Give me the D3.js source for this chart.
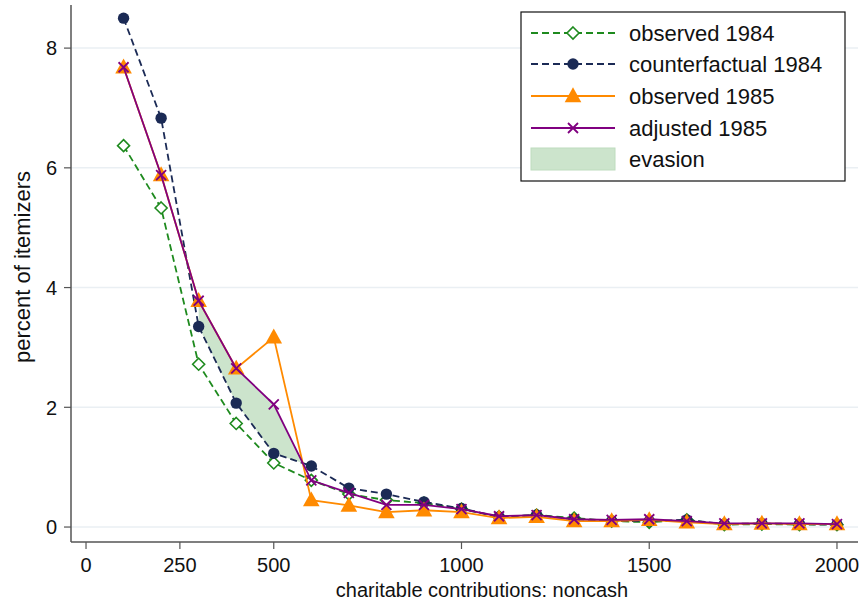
<!DOCTYPE html>
<html><head><meta charset="utf-8">
<script src="https://cdn.jsdelivr.net/npm/d3@7"></script>
<style>body{margin:0;background:#fff}svg{display:block;font-family:"Liberation Sans",Arial,sans-serif}</style>
</head><body><svg id="c" width="867" height="605"></svg>
<script>
const xValues = [100,200,300,400,500,600,700,800,900,1000,1100,1200,1300,1400,1500,1600,1700,1800,1900,2000];
const observed1984 = [6.37,5.33,2.72,1.73,1.07,0.78,0.55,0.45,0.40,0.30,0.17,0.20,0.15,0.10,0.08,0.12,0.04,0.05,0.04,0.04];
const counterfactual1984 = [8.50,6.83,3.35,2.07,1.23,1.02,0.65,0.55,0.42,0.31,0.17,0.20,0.13,0.10,0.10,0.12,0.05,0.06,0.05,0.04];
const observed1985 = [7.68,5.88,3.78,2.65,3.17,0.45,0.36,0.25,0.28,0.25,0.15,0.17,0.10,0.10,0.12,0.08,0.05,0.06,0.05,0.05];
const adjusted1985 = [7.68,5.88,3.78,2.65,2.05,0.78,0.57,0.37,0.37,0.30,0.18,0.20,0.13,0.12,0.13,0.10,0.06,0.06,0.06,0.05];
const evasionRange = [300,600];
const xTicks = [0,250,500,1000,1500,2000];
const yTicks = [0,2,4,6,8];
const seriesNames = ["observed 1984","counterfactual 1984","observed 1985","adjusted 1985","evasion"];
const xTitle = "charitable contributions: noncash";
const yTitle = "percent of itemizers";

const svg = d3.select("#c");
const L=71,R=858,T=5,B=542;
const x = d3.scaleLinear().domain([-40,2056]).range([L,R]);
const y = d3.scaleLinear().domain([-0.25,8.72]).range([B,T]);

// grid
svg.append("g").selectAll("line").data(yTicks).join("line")
  .attr("x1",L).attr("x2",R).attr("y1",d=>y(d)).attr("y2",d=>y(d))
  .attr("stroke","#eaeff3").attr("stroke-width",1.5);

// evasion area: between adjusted1985 (upper) and counterfactual1984 where upper>lower
const ev=[];
for(let i=0;i<xValues.length;i++){
  const xv=xValues[i]; if(xv<evasionRange[0]||xv>evasionRange[1]) continue;
  const u=adjusted1985[i], l=counterfactual1984[i];
  if(u>=l) ev.push({x:xv,u,l});
  if(i+1<xValues.length && xValues[i+1]<=evasionRange[1]){
    const d0=u-l, d1=adjusted1985[i+1]-counterfactual1984[i+1];
    if(d0>0 && d1<0){
      const t=d0/(d0-d1);
      const xc=xv+t*(xValues[i+1]-xv);
      const yc=l+t*(counterfactual1984[i+1]-l);
      ev.push({x:xc,u:yc,l:yc});
    }
  }
}
svg.append("path").datum(ev)
  .attr("d",d3.area().x(d=>x(d.x)).y0(d=>y(d.l)).y1(d=>y(d.u)))
  .attr("fill","rgb(204,228,204)");

const colors={g:"#1e8a1e",n:"#1b2a55",o:"#ff8a00",p:"#800080"};
const line=d3.line().x(d=>x(d[0])).y(d=>y(d[1]));
function series(vals,color,dash){
  const pts=xValues.map((v,i)=>[v,vals[i]]);
  svg.append("path").datum(pts).attr("d",line).attr("fill","none")
    .attr("stroke",color).attr("stroke-width",1.8).attr("stroke-dasharray",dash||null);
  return pts;
}
const diamond=(g,cx,cy,s)=>g.append("path").attr("d",`M${cx},${cy-s}L${cx+s},${cy}L${cx},${cy+s}L${cx-s},${cy}Z`);
const tri=(g,cx,cy,s)=>g.append("path").attr("d",`M${cx},${cy-s*1.05}L${cx+s},${cy+s*0.75}L${cx-s},${cy+s*0.75}Z`);
const cross=(g,cx,cy,s)=>g.append("path").attr("d",`M${cx-s},${cy-s}L${cx+s},${cy+s}M${cx-s},${cy+s}L${cx+s},${cy-s}`);

let p=series(observed1984,colors.g,"7,4");
p.forEach(d=>diamond(svg,x(d[0]),y(d[1]),6).attr("fill","white").attr("stroke",colors.g).attr("stroke-width",1.6));
p=series(counterfactual1984,colors.n,"7,4");
p.forEach(d=>svg.append("circle").attr("cx",x(d[0])).attr("cy",y(d[1])).attr("r",5.7).attr("fill",colors.n));
p=series(observed1985,colors.o);
p.forEach(d=>tri(svg,x(d[0]),y(d[1]),8.3).attr("fill",colors.o));
p=series(adjusted1985,colors.p);
p.forEach(d=>cross(svg,x(d[0]),y(d[1]),5).attr("stroke",colors.p).attr("stroke-width",1.8));

// axes
const ax="#555";
svg.append("line").attr("x1",L).attr("x2",L).attr("y1",T).attr("y2",B).attr("stroke",ax).attr("stroke-width",1.5);
svg.append("line").attr("x1",L).attr("x2",R).attr("y1",B).attr("y2",B).attr("stroke",ax).attr("stroke-width",1.5);
svg.append("g").selectAll("line").data(yTicks).join("line")
  .attr("x1",L-7).attr("x2",L).attr("y1",d=>y(d)).attr("y2",d=>y(d)).attr("stroke",ax).attr("stroke-width",1.2);
svg.append("g").selectAll("text").data(yTicks).join("text")
  .attr("x",L-14).attr("y",d=>y(d)).attr("dy","0.36em").attr("text-anchor","end")
  .attr("font-size",20).attr("fill","#111").text(d=>d);
svg.append("g").selectAll("line").data(xTicks).join("line")
  .attr("x1",d=>x(d)).attr("x2",d=>x(d)).attr("y1",B).attr("y2",B+7).attr("stroke",ax).attr("stroke-width",1.2);
svg.append("g").selectAll("text").data(xTicks).join("text")
  .attr("x",d=>x(d)).attr("y",B+30).attr("text-anchor","middle")
  .attr("font-size",20).attr("fill","#111").text(d=>d);
svg.append("text").attr("x",482).attr("y",597).attr("text-anchor","middle")
  .attr("font-size",20).attr("fill","#111").text(xTitle);
svg.append("text").attr("transform",`translate(30,267) rotate(-90)`).attr("text-anchor","middle")
  .attr("font-size",22).attr("fill","#111").text(yTitle);

// legend
const lg=svg.append("g");
lg.append("rect").attr("x",521).attr("y",12).attr("width",324).attr("height",169)
  .attr("fill","white").attr("stroke","#111").attr("stroke-width",1.2);
const rows=[33,64,96,128,159];
const lx0=531,lx1=615,lm=(lx0+lx1)/2;
lg.append("line").attr("x1",lx0).attr("x2",lx1).attr("y1",rows[0]).attr("y2",rows[0]).attr("stroke",colors.g).attr("stroke-width",1.8).attr("stroke-dasharray","7,4");
diamond(lg,lm,rows[0],6).attr("fill","white").attr("stroke",colors.g).attr("stroke-width",1.6);
lg.append("line").attr("x1",lx0).attr("x2",lx1).attr("y1",rows[1]).attr("y2",rows[1]).attr("stroke",colors.n).attr("stroke-width",1.8).attr("stroke-dasharray","7,4");
lg.append("circle").attr("cx",lm).attr("cy",rows[1]).attr("r",5.7).attr("fill",colors.n);
lg.append("line").attr("x1",lx0).attr("x2",lx1).attr("y1",rows[2]).attr("y2",rows[2]).attr("stroke",colors.o).attr("stroke-width",1.8);
tri(lg,lm,rows[2],8.3).attr("fill",colors.o);
lg.append("line").attr("x1",lx0).attr("x2",lx1).attr("y1",rows[3]).attr("y2",rows[3]).attr("stroke",colors.p).attr("stroke-width",1.8);
cross(lg,lm,rows[3],5).attr("stroke",colors.p).attr("stroke-width",1.8);
lg.append("rect").attr("x",lx0).attr("y",rows[4]-11).attr("width",lx1-lx0).attr("height",22)
  .attr("fill","rgb(204,228,204)").attr("stroke","rgb(190,220,190)");
lg.selectAll("text.l").data(seriesNames).join("text").attr("class","l")
  .attr("x",629).attr("y",(d,i)=>rows[i]).attr("dy","0.36em")
  .attr("font-size",22).attr("fill","#111").text(d=>d);
</script></body></html>
